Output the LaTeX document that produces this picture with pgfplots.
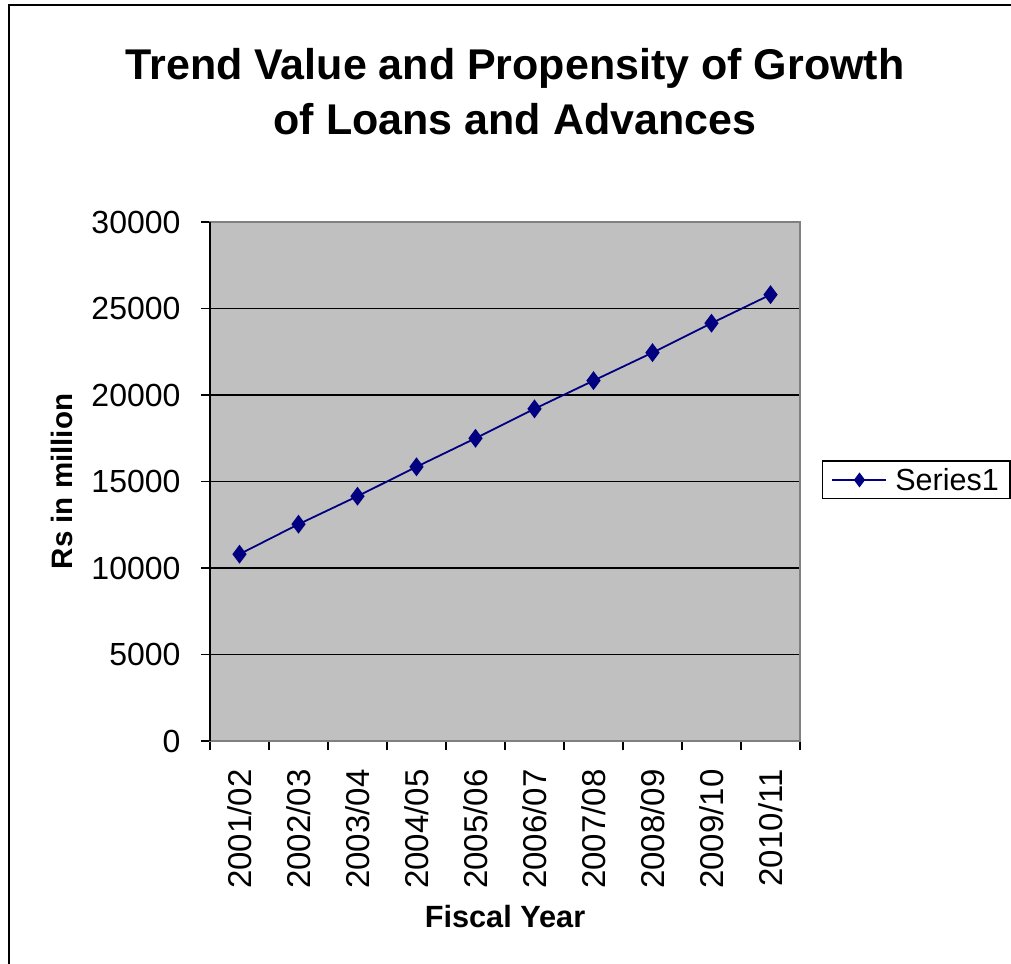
\documentclass[border=0pt]{standalone}
\usepackage{fontspec}
\setmainfont{Liberation Sans}
\usepackage{pgfplots}
\pgfplotsset{compat=1.18}
\definecolor{plotgray}{HTML}{C0C0C0}
\definecolor{framegray}{HTML}{808080}
\definecolor{navyblue}{HTML}{000080}
\begin{document}
\begin{tikzpicture}[x=1pt,y=1pt]
\useasboundingbox (0,0) rectangle (1011,-963);
\clip (0,0) rectangle (1011,-963);
\draw[line width=2pt] (9,-5) rectangle (1030,-990);
\node[font=\bfseries\fontsize{43}{55}\selectfont, align=center] at (515,-92) {Trend Value and Propensity of Growth\\of Loans and Advances};
\begin{axis}[
  at={(210pt,-741pt)}, anchor=south west,
  scale only axis, width=590pt, height=519pt,
  xmin=0.5, xmax=10.5, ymin=0, ymax=30000,
  ytick={0,5000,...,30000},
  xtick={1,...,10},
  xticklabels={2001/02,2002/03,2003/04,2004/05,2005/06,2006/07,2007/08,2008/09,2009/10,2010/11},
  x tick label style={rotate=90, anchor=east},
  major x tick style={draw=none},
  minor xtick={0.5,1.5,...,10.5},
  tick align=outside,
  xtick pos=lower, ytick pos=left,
  major tick length=9pt, minor tick length=9pt,
  axis background/.style={fill=plotgray},
  ymajorgrids, grid style={black, line width=1.6pt},
  axis line style={draw=framegray, line width=1.5pt},
  tick style={black, line width=1.5pt},
  scaled y ticks=false,
  /pgf/number format/1000 sep={},
  /pgf/number format/assume math mode=true,
  yticklabel style={font=\fontsize{32}{32}\selectfont, xshift=-17pt},
  xticklabel style={font=\fontsize{33}{33}\selectfont, xshift=-16pt},
  xlabel={Fiscal Year}, ylabel={Rs in million},
  xlabel style={font=\bfseries\fontsize{30.7}{31}\selectfont, at={(axis description cs:0.5,-0.339)}, anchor=center},
  ylabel style={font=\bfseries\fontsize{29.5}{30}\selectfont, at={(axis description cs:-0.251,0.5)}, anchor=center},
  legend style={at={(axis description cs:1.037,0.503)}, anchor=west, draw=black, line width=1.5pt, fill=white, font=\fontsize{30.5}{31}\selectfont, inner xsep=9pt, inner ysep=5pt},
  legend image code/.code={\draw[#1] (0pt,0pt) -- (54pt,0pt); \draw[#1, mark size=6pt] plot coordinates {(27pt,0pt)}; \path (60pt,0pt);},
  after end axis/.code={
    \draw[framegray,line width=2pt] (rel axis cs:0,1) -- (rel axis cs:1,1) -- (rel axis cs:1,0);
    \draw[black,line width=1.5pt] (rel axis cs:0,0) -- (rel axis cs:0,1);},
]
\addplot[navyblue, line width=1.8pt, mark=diamond*, mark size=8pt, mark options={fill=navyblue}] coordinates {
(1,10800) (2,12530) (3,14150) (4,15850) (5,17500) (6,19200) (7,20830) (8,22450) (9,24150) (10,25800)
};
\addlegendentry{Series1}
\end{axis}
\end{tikzpicture}
\end{document}
